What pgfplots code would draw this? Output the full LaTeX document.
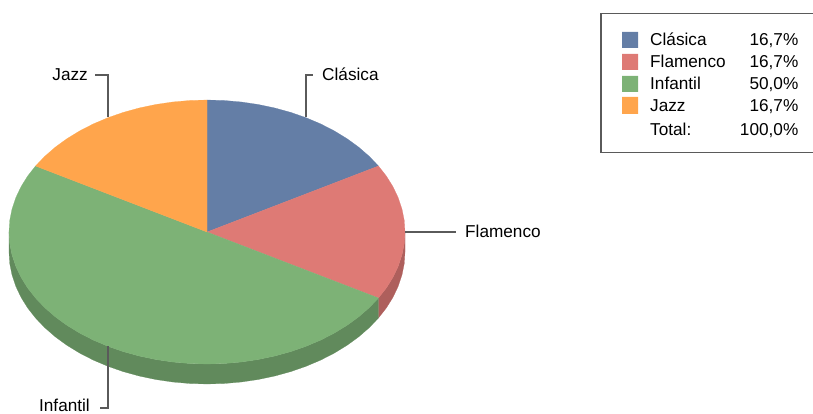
\documentclass[border=0pt]{standalone}
\usepackage{pgfplots}
\pgfplotsset{compat=1.18}
\usepackage{fontspec}
\setmainfont{Liberation Sans}
\definecolor{cBlue}{HTML}{647EA6}
\definecolor{cRed}{HTML}{DE7A75}
\definecolor{cGreen}{HTML}{7DB276}
\definecolor{cOrange}{HTML}{FFA54C}
\definecolor{cRedD}{HTML}{AE5F5C}
\definecolor{cGreenD}{HTML}{618A5C}
\definecolor{cLine}{HTML}{5A5A5A}
\begin{document}
\begin{tikzpicture}
\useasboundingbox (0,0) rectangle (813pt,414pt);
\begin{axis}[
  at={(0,0)}, anchor=south west,
  scale only axis, width=813pt, height=414pt,
  xmin=0, xmax=813, ymin=0, ymax=414, y dir=reverse,
  hide axis, clip=false,
  nodes={font=\fontsize{17.2}{20}\selectfont, inner sep=0pt, text=black},
  ]
% side walls
\addplot[fill=cRedD, draw=cRedD, line width=0.2pt] coordinates {
(405,232)(404.25,243.5)(401.99,254.92)(398.25,266.16)(393.06,277.15)(386.45,287.79)(378.47,298)
(378.47,318)(386.45,307.79)(393.06,297.15)(398.25,286.16)(401.99,274.92)(404.25,263.5)(405,252)(405,232)};
\addplot[fill=cGreenD, draw=cGreenD, line width=0.2pt] coordinates {
(378.47,298)(369.19,307.71)(358.68,316.85)(347,325.34)(334.27,333.12)(320.57,340.13)(306,346.32)(290.68,351.63)(274.72,356.04)(258.25,359.5)(241.38,362)(224.26,363.5)(207,364)(189.74,363.5)(172.62,362)(155.75,359.5)(139.28,356.04)(123.32,351.63)(108,346.32)(93.43,340.13)(79.73,333.12)(67,325.34)(55.32,316.85)(44.81,307.71)(35.53,298)(27.55,287.79)(20.94,277.15)(15.75,266.16)(12.01,254.92)(9.75,243.5)(9,232)
(9,252)(9.75,263.5)(12.01,274.92)(15.75,286.16)(20.94,297.15)(27.55,307.79)(35.53,318)(44.81,327.71)(55.32,336.85)(67,345.34)(79.73,353.12)(93.43,360.13)(108,366.32)(123.32,371.63)(139.28,376.04)(155.75,379.5)(172.62,382)(189.74,383.5)(207,384)(224.26,383.5)(241.38,382)(258.25,379.5)(274.72,376.04)(290.68,371.63)(306,366.32)(320.57,360.13)(334.27,353.12)(347,345.34)(358.68,336.85)(369.19,327.71)(378.47,318)(378.47,298)};
% top wedges
\addplot[fill=cBlue, draw=cBlue, line width=0.2pt] coordinates {
(207,232)(207,100)(224.26,100.5)(241.38,102)(258.25,104.5)(274.72,107.96)(290.68,112.37)(306,117.68)(320.57,123.87)(334.27,130.88)(347,138.66)(358.68,147.15)(369.19,156.29)(378.47,166)(207,232)};
\addplot[fill=cRed, draw=cRed, line width=0.2pt] coordinates {
(207,232)(378.47,166)(386.45,176.21)(393.06,186.85)(398.25,197.84)(401.99,209.08)(404.25,220.5)(405,232)(404.25,243.5)(401.99,254.92)(398.25,266.16)(393.06,277.15)(386.45,287.79)(378.47,298)(207,232)};
\addplot[fill=cGreen, draw=cGreen, line width=0.2pt] coordinates {
(207,232)(378.47,298)(369.19,307.71)(358.68,316.85)(347,325.34)(334.27,333.12)(320.57,340.13)(306,346.32)(290.68,351.63)(274.72,356.04)(258.25,359.5)(241.38,362)(224.26,363.5)(207,364)(189.74,363.5)(172.62,362)(155.75,359.5)(139.28,356.04)(123.32,351.63)(108,346.32)(93.43,340.13)(79.73,333.12)(67,325.34)(55.32,316.85)(44.81,307.71)(35.53,298)(27.55,287.79)(20.94,277.15)(15.75,266.16)(12.01,254.92)(9.75,243.5)(9,232)(9.75,220.5)(12.01,209.08)(15.75,197.84)(20.94,186.85)(27.55,176.21)(35.53,166)(207,232)};
\addplot[fill=cOrange, draw=cOrange, line width=0.2pt] coordinates {
(207,232)(35.53,166)(44.81,156.29)(55.32,147.15)(67,138.66)(79.73,130.88)(93.43,123.87)(108,117.68)(123.32,112.37)(139.28,107.96)(155.75,104.5)(172.62,102)(189.74,100.5)(207,100)(207,232)};
% leader lines
\addplot[cLine, line width=1.1pt] coordinates {(306,117)(306,75)(313,75)};
\addplot[cLine, line width=1.1pt] coordinates {(108,117)(108,75)(95,75)};
\addplot[cLine, line width=1.1pt] coordinates {(405,232)(456,232)};
\addplot[cLine, line width=1.1pt] coordinates {(108,346)(108,408)(100,408)};
\node[anchor=base west] at (axis cs:322,80.7) {Clásica};
\node[anchor=base east] at (axis cs:88,80.7) {Jazz};
\node[anchor=base west] at (axis cs:465,237.5) {Flamenco};
\node[anchor=base east] at (axis cs:90,411.5) {Infantil};
% legend
\addplot[cLine, line width=1.1pt] coordinates {(813,13.5)(601,13.5)(601,152.5)(813,152.5)};
\addplot[fill=cBlue, draw=none] coordinates {(622,32)(638,32)(638,48)(622,48)(622,32)};
\addplot[fill=cRed, draw=none] coordinates {(622,54)(638,54)(638,70)(622,70)(622,54)};
\addplot[fill=cGreen, draw=none] coordinates {(622,76)(638,76)(638,92)(622,92)(622,76)};
\addplot[fill=cOrange, draw=none] coordinates {(622,97)(638,97)(638,114)(622,114)(622,97)};
\node[anchor=base west] at (axis cs:650,45.5) {Clásica};
\node[anchor=base west] at (axis cs:650,67.5) {Flamenco};
\node[anchor=base west] at (axis cs:650,89.5) {Infantil};
\node[anchor=base west] at (axis cs:650,111.5) {Jazz};
\node[anchor=base west] at (axis cs:650,136) {Total:};
\node[anchor=base east] at (axis cs:798.5,45.5) {16,7\%};
\node[anchor=base east] at (axis cs:798.5,67.5) {16,7\%};
\node[anchor=base east] at (axis cs:798.5,89.5) {50,0\%};
\node[anchor=base east] at (axis cs:798.5,111.5) {16,7\%};
\node[anchor=base east] at (axis cs:798.5,136) {100,0\%};
\end{axis}
\end{tikzpicture}
\end{document}
